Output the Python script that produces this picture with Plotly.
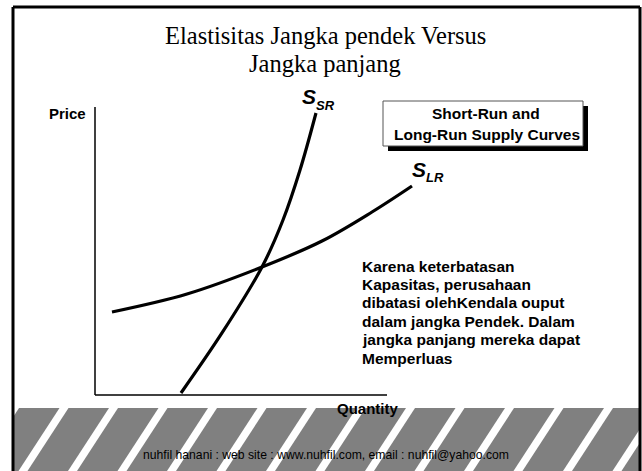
import plotly.graph_objects as go

# ---------------- data ----------------
title_lines = ["Elastisitas Jangka pendek Versus", "Jangka panjang"]
box_lines = ["Short-Run and", "Long-Run Supply Curves"]
note_lines = [
    "Karena keterbatasan",
    "Kapasitas, perusahaan",
    "dibatasi olehKendala ouput",
    "dalam jangka Pendek. Dalam",
    "jangka panjang mereka dapat",
    "Memperluas",
]
footer_text = "nuhfil hanani : web site : www.nuhfil.com, email : nuhfil@yahoo.com"

# short-run supply (quantity, price)
ssr_q = [2.945, 4.349, 5.719, 6.438, 7.021, 7.568]
ssr_p = [0.069, 2.153, 4.444, 6.076, 7.813, 9.792]
# long-run supply (quantity, price)
slr_q = [0.582, 3.151, 5.719, 7.774, 9.486, 10.856]
slr_p = [2.882, 3.507, 4.444, 5.347, 6.354, 7.257]

axis_max_q = 10
axis_max_p = 10

# ---------------- layout helpers ----------------
W, H = 642, 471


def px(x, y):
    return x / W, 1 - y / H


ARIAL = "Liberation Sans, Arial, sans-serif"
TIMES = "Liberation Serif, Times New Roman, serif"

fig = go.Figure()
for q, p in [(ssr_q, ssr_p), (slr_q, slr_p)]:
    fig.add_trace(go.Scatter(x=q, y=p, mode="lines",
                             line=dict(color="black", width=3.2, shape="spline", smoothing=1.0),
                             hoverinfo="skip", showlegend=False))

shapes = []
# gray footer band
x0, y0 = px(14, 408)
x1, y1 = px(640, 471)
shapes.append(dict(type="rect", xref="paper", yref="paper", x0=x0, y0=y1, x1=x1, y1=y0,
                   fillcolor="#808080", line=dict(width=0), layer="below"))
# white diagonal stripes
for k in range(-1, 14):
    c = 23 + 49.5 * k
    pts = [(c - 4.5, 471), (c + 4.5, 471), (c + 45.5, 408), (c + 36.5, 408)]
    path = "M " + " L ".join(f"{px(a, b)[0]},{px(a, b)[1]}" for a, b in pts) + " Z"
    shapes.append(dict(type="path", xref="paper", yref="paper", path=path,
                       fillcolor="white", line=dict(width=0), layer="below"))
# frame
for (a, b, c, d) in [(13, 7, 640, 7), (13, 7, 13, 471), (640, 7, 640, 471)]:
    xa, ya = px(a, b)
    xb, yb = px(c, d)
    shapes.append(dict(type="line", xref="paper", yref="paper", x0=xa, y0=ya, x1=xb, y1=yb,
                       line=dict(color="black", width=3)))
# axes lines (data coords)
shapes.append(dict(type="line", xref="x", yref="y", x0=0, y0=0, x1=0, y1=axis_max_p,
                   line=dict(color="black", width=1.5)))
shapes.append(dict(type="line", xref="x", yref="y", x0=0, y0=0, x1=axis_max_q, y1=0,
                   line=dict(color="black", width=1.5)))
# box shadow and box
sx0, sy0 = px(388, 106)
sx1, sy1 = px(588, 151)
shapes.append(dict(type="rect", xref="paper", yref="paper", x0=sx0, y0=sy1, x1=sx1, y1=sy0,
                   fillcolor="black", line=dict(width=0)))
bx0, by0 = px(383, 101)
bx1, by1 = px(583, 146)
shapes.append(dict(type="rect", xref="paper", yref="paper", x0=bx0, y0=by1, x1=bx1, y1=by0,
                   fillcolor="white", line=dict(color="#555555", width=1)))

ann = []


def text(t, x, y, size, family=ARIAL, bold=False, italic=False, anchor="center", color="black"):
    s = t
    if bold:
        s = f"<b>{s}</b>"
    if italic:
        s = f"<i>{s}</i>"
    xx, yy = px(x, y)
    ann.append(dict(text=s, x=xx, y=yy, xref="paper", yref="paper", showarrow=False,
                    xanchor=anchor, yanchor="middle",
                    font=dict(family=family, size=size, color=color)))


text(title_lines[0], 325, 36, 24.5, family=TIMES)
text(title_lines[1], 325, 64, 24.5, family=TIMES)
text("Price", 67, 114, 15, bold=True)
text("Quantity", 368, 408, 15, bold=True)
text(box_lines[0], 486, 114, 15.5, bold=True)
text(box_lines[1], 487, 135, 15.5, bold=True)
text("S", 309, 97, 21, bold=True, italic=True)
text("SR", 325, 105.5, 13, bold=True, italic=True)
text("S", 419, 169.5, 21, bold=True, italic=True)
text("LR", 435, 177.5, 13, bold=True, italic=True)
for i, line in enumerate(note_lines):
    text(line, 360, 266 + 18.4 * i, 15.5, bold=True, anchor="left")
text(footer_text, 326, 455, 12.2)

# map full figure to data coordinates: pixel 95 -> Q=0, 387 -> Q=10; pixel 395 -> P=0, 107 -> P=10
qpx = (387 - 95) / axis_max_q
ppx = (395 - 107) / axis_max_p
xr = [-95 / qpx, (W - 95) / qpx]
yr = [(395 - H) / ppx, 395 / ppx]

fig.update_layout(
    width=W, height=H, margin=dict(l=0, r=0, t=0, b=0),
    paper_bgcolor="white", plot_bgcolor="rgba(0,0,0,0)",
    xaxis=dict(range=xr, visible=False, domain=[0, 1], fixedrange=True),
    yaxis=dict(range=yr, visible=False, domain=[0, 1], fixedrange=True),
    shapes=shapes, annotations=ann, showlegend=False,
)
fig.write_html("out.html", config={"displayModeBar": False},
               post_script="document.body.style.margin='0';document.body.style.overflow='hidden';")
